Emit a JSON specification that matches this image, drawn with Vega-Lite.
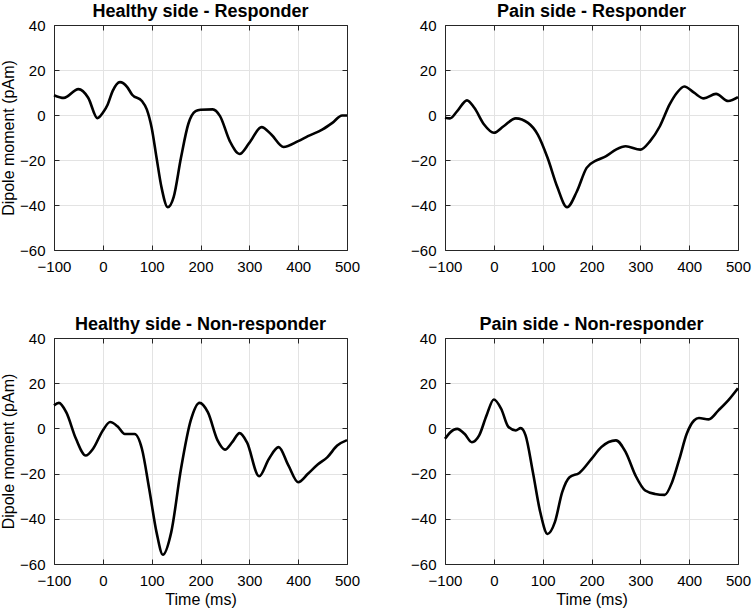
{
 "$schema": "https://vega.github.io/schema/vega-lite/v6.json",
 "padding": {"left": 0, "top": 3, "right": 5, "bottom": 2},
 "background": "white",
 "datasets": {
  "d": [
   {"p":"HR","t":-100,"v":8.8},{"p":"HR","t":-80,"v":7.6},{"p":"HR","t":-50,"v":11.5},{"p":"HR","t":-30,"v":7.7},{"p":"HR","t":-11,"v":-1.4},{"p":"HR","t":0,"v":1},{"p":"HR","t":10,"v":4.7},{"p":"HR","t":20,"v":10.6},{"p":"HR","t":35,"v":14.6},{"p":"HR","t":50,"v":12.4},{"p":"HR","t":60,"v":9},{"p":"HR","t":80,"v":6.2},{"p":"HR","t":90,"v":2.5},{"p":"HR","t":100,"v":-5.7},{"p":"HR","t":110,"v":-19},{"p":"HR","t":120,"v":-32},{"p":"HR","t":133,"v":-41},{"p":"HR","t":145,"v":-36.5},{"p":"HR","t":160,"v":-19},{"p":"HR","t":175,"v":-4},{"p":"HR","t":190,"v":1.7},{"p":"HR","t":200,"v":2.3},{"p":"HR","t":225,"v":2.5},{"p":"HR","t":240,"v":-0.5},{"p":"HR","t":260,"v":-11.6},{"p":"HR","t":280,"v":-17.3},{"p":"HR","t":300,"v":-12.4},{"p":"HR","t":325,"v":-5.4},{"p":"HR","t":345,"v":-8.7},{"p":"HR","t":370,"v":-14.2},{"p":"HR","t":400,"v":-11.6},{"p":"HR","t":420,"v":-9.4},{"p":"HR","t":450,"v":-6.4},{"p":"HR","t":470,"v":-3.5},{"p":"HR","t":490,"v":-0.2},{"p":"HR","t":500,"v":-0.2},
   {"p":"PR","t":-100,"v":-1.2},{"p":"PR","t":-90,"v":-1.5},{"p":"PR","t":-75,"v":1.7},{"p":"PR","t":-55,"v":6.5},{"p":"PR","t":-40,"v":3.2},{"p":"PR","t":-20,"v":-4.2},{"p":"PR","t":0,"v":-7.9},{"p":"PR","t":20,"v":-5},{"p":"PR","t":45,"v":-1.5},{"p":"PR","t":70,"v":-3.5},{"p":"PR","t":90,"v":-8.7},{"p":"PR","t":110,"v":-19},{"p":"PR","t":130,"v":-32},{"p":"PR","t":150,"v":-41},{"p":"PR","t":170,"v":-34},{"p":"PR","t":190,"v":-23.5},{"p":"PR","t":210,"v":-20.2},{"p":"PR","t":230,"v":-18.3},{"p":"PR","t":250,"v":-15.4},{"p":"PR","t":270,"v":-13.9},{"p":"PR","t":300,"v":-15.4},{"p":"PR","t":320,"v":-11.6},{"p":"PR","t":340,"v":-5},{"p":"PR","t":360,"v":4.7},{"p":"PR","t":375,"v":9.9},{"p":"PR","t":390,"v":12.7},{"p":"PR","t":410,"v":9.9},{"p":"PR","t":430,"v":7.4},{"p":"PR","t":455,"v":9.4},{"p":"PR","t":480,"v":6.2},{"p":"PR","t":500,"v":7.9},
   {"p":"HN","t":-100,"v":10.2},{"p":"HN","t":-90,"v":11.3},{"p":"HN","t":-75,"v":7.2},{"p":"HN","t":-55,"v":-4.6},{"p":"HN","t":-35,"v":-12},{"p":"HN","t":-20,"v":-9},{"p":"HN","t":0,"v":-0.9},{"p":"HN","t":15,"v":2.8},{"p":"HN","t":30,"v":0.9},{"p":"HN","t":45,"v":-2.5},{"p":"HN","t":65,"v":-2.5},{"p":"HN","t":80,"v":-9},{"p":"HN","t":95,"v":-26.8},{"p":"HN","t":110,"v":-46},{"p":"HN","t":123,"v":-55.9},{"p":"HN","t":140,"v":-46},{"p":"HN","t":160,"v":-18},{"p":"HN","t":180,"v":3.5},{"p":"HN","t":198,"v":11.3},{"p":"HN","t":215,"v":7.2},{"p":"HN","t":235,"v":-5.3},{"p":"HN","t":250,"v":-9.4},{"p":"HN","t":265,"v":-6.1},{"p":"HN","t":280,"v":-2.1},{"p":"HN","t":295,"v":-6.1},{"p":"HN","t":320,"v":-21.2},{"p":"HN","t":340,"v":-13.5},{"p":"HN","t":360,"v":-8.3},{"p":"HN","t":380,"v":-16.4},{"p":"HN","t":400,"v":-23.8},{"p":"HN","t":420,"v":-20.1},{"p":"HN","t":440,"v":-16},{"p":"HN","t":460,"v":-12.7},{"p":"HN","t":480,"v":-7.6},{"p":"HN","t":500,"v":-5.2},
   {"p":"PN","t":-100,"v":-4.6},{"p":"PN","t":-90,"v":-1.9},{"p":"PN","t":-75,"v":-0.2},{"p":"PN","t":-60,"v":-2.4},{"p":"PN","t":-45,"v":-6.1},{"p":"PN","t":-30,"v":-3.1},{"p":"PN","t":-15,"v":5.7},{"p":"PN","t":0,"v":12.8},{"p":"PN","t":15,"v":8.7},{"p":"PN","t":30,"v":0.6},{"p":"PN","t":45,"v":-0.9},{"p":"PN","t":55,"v":0.1},{"p":"PN","t":65,"v":-3.1},{"p":"PN","t":80,"v":-19.4},{"p":"PN","t":95,"v":-37},{"p":"PN","t":110,"v":-46.7},{"p":"PN","t":125,"v":-41.5},{"p":"PN","t":140,"v":-28.2},{"p":"PN","t":155,"v":-21.6},{"p":"PN","t":175,"v":-19.7},{"p":"PN","t":200,"v":-13.5},{"p":"PN","t":220,"v":-8.3},{"p":"PN","t":250,"v":-5.3},{"p":"PN","t":270,"v":-10.5},{"p":"PN","t":290,"v":-20.8},{"p":"PN","t":310,"v":-27.5},{"p":"PN","t":330,"v":-29},{"p":"PN","t":350,"v":-29.4},{"p":"PN","t":365,"v":-23.8},{"p":"PN","t":380,"v":-13.5},{"p":"PN","t":395,"v":-2.4},{"p":"PN","t":410,"v":3.5},{"p":"PN","t":420,"v":4.6},{"p":"PN","t":440,"v":4},{"p":"PN","t":460,"v":8},{"p":"PN","t":480,"v":12.4},{"p":"PN","t":500,"v":17.8}
  ]
 },
 "data": {"name": "d"},
 "columns": 2,
 "spacing": {"row": 42, "column": 50},
 "concat": [
  {
   "title": "Healthy side - Responder",
   "width": 293, "height": 225,
   "transform": [{"filter": "datum.p == 'HR'"}],
   "layer": [
    {"mark": {"type": "line", "color": "black", "strokeWidth": 2.6, "interpolate": "monotone"},
     "encoding": {
      "x": {"field": "t", "type": "quantitative", "scale": {"domain": [-100, 500], "nice": false}, "axis": {"orient": "bottom", "title": null, "values": [-100,0,100,200,300,400,500]}},
      "y": {"field": "v", "type": "quantitative", "scale": {"domain": [-60, 40], "nice": false}, "axis": {"orient": "left", "title": "Dipole moment (pAm)", "values": [-60,-40,-20,0,20,40]}}
     }},
    {"mark": {"type": "line", "opacity": 0},
     "encoding": {
      "x": {"field": "t", "type": "quantitative", "axis": {"orient": "top", "title": null, "labels": false, "grid": false, "values": [-100,0,100,200,300,400,500]}},
      "y": {"field": "v", "type": "quantitative", "axis": {"orient": "right", "title": null, "labels": false, "grid": false, "values": [-60,-40,-20,0,20,40]}}
     }}
   ],
   "resolve": {"axis": {"x": "independent", "y": "independent"}}
  },
  {
   "title": "Pain side - Responder",
   "width": 293, "height": 225,
   "transform": [{"filter": "datum.p == 'PR'"}],
   "layer": [
    {"mark": {"type": "line", "color": "black", "strokeWidth": 2.6, "interpolate": "monotone"},
     "encoding": {
      "x": {"field": "t", "type": "quantitative", "scale": {"domain": [-100, 500], "nice": false}, "axis": {"orient": "bottom", "title": null, "values": [-100,0,100,200,300,400,500]}},
      "y": {"field": "v", "type": "quantitative", "scale": {"domain": [-60, 40], "nice": false}, "axis": {"orient": "left", "title": null, "values": [-60,-40,-20,0,20,40]}}
     }},
    {"mark": {"type": "line", "opacity": 0},
     "encoding": {
      "x": {"field": "t", "type": "quantitative", "axis": {"orient": "top", "title": null, "labels": false, "grid": false, "values": [-100,0,100,200,300,400,500]}},
      "y": {"field": "v", "type": "quantitative", "axis": {"orient": "right", "title": null, "labels": false, "grid": false, "values": [-60,-40,-20,0,20,40]}}
     }}
   ],
   "resolve": {"axis": {"x": "independent", "y": "independent"}}
  },
  {
   "title": "Healthy side - Non-responder",
   "width": 293, "height": 226,
   "transform": [{"filter": "datum.p == 'HN'"}],
   "layer": [
    {"mark": {"type": "line", "color": "black", "strokeWidth": 2.6, "interpolate": "monotone"},
     "encoding": {
      "x": {"field": "t", "type": "quantitative", "scale": {"domain": [-100, 500], "nice": false}, "axis": {"orient": "bottom", "title": "Time (ms)", "values": [-100,0,100,200,300,400,500]}},
      "y": {"field": "v", "type": "quantitative", "scale": {"domain": [-60, 40], "nice": false}, "axis": {"orient": "left", "title": "Dipole moment (pAm)", "values": [-60,-40,-20,0,20,40]}}
     }},
    {"mark": {"type": "line", "opacity": 0},
     "encoding": {
      "x": {"field": "t", "type": "quantitative", "axis": {"orient": "top", "title": null, "labels": false, "grid": false, "values": [-100,0,100,200,300,400,500]}},
      "y": {"field": "v", "type": "quantitative", "axis": {"orient": "right", "title": null, "labels": false, "grid": false, "values": [-60,-40,-20,0,20,40]}}
     }}
   ],
   "resolve": {"axis": {"x": "independent", "y": "independent"}}
  },
  {
   "title": "Pain side - Non-responder",
   "width": 293, "height": 226,
   "transform": [{"filter": "datum.p == 'PN'"}],
   "layer": [
    {"mark": {"type": "line", "color": "black", "strokeWidth": 2.6, "interpolate": "monotone"},
     "encoding": {
      "x": {"field": "t", "type": "quantitative", "scale": {"domain": [-100, 500], "nice": false}, "axis": {"orient": "bottom", "title": "Time (ms)", "values": [-100,0,100,200,300,400,500]}},
      "y": {"field": "v", "type": "quantitative", "scale": {"domain": [-60, 40], "nice": false}, "axis": {"orient": "left", "title": null, "values": [-60,-40,-20,0,20,40]}}
     }},
    {"mark": {"type": "line", "opacity": 0},
     "encoding": {
      "x": {"field": "t", "type": "quantitative", "axis": {"orient": "top", "title": null, "labels": false, "grid": false, "values": [-100,0,100,200,300,400,500]}},
      "y": {"field": "v", "type": "quantitative", "axis": {"orient": "right", "title": null, "labels": false, "grid": false, "values": [-60,-40,-20,0,20,40]}}
     }}
   ],
   "resolve": {"axis": {"x": "independent", "y": "independent"}}
  }
 ],
 "config": {
  "font": "Liberation Sans",
  "view": {"stroke": null},
  "title": {"fontSize": 18, "fontWeight": "bold", "color": "black", "anchor": "middle", "offset": -3},
  "axis": {
   "labelFontSize": 15, "labelColor": "black", "labelPadding": 14, "labelFlush": false,
   "titleFontSize": 16, "titleFontWeight": "normal", "titleColor": "black", "titlePadding": 3,
   "domainColor": "#262626", "domainWidth": 1,
   "tickColor": "#262626", "tickSize": -5, "tickWidth": 1,
   "gridColor": "#e3e3e3", "gridWidth": 1
  },
  "axisY": {"labelPadding": 14, "titlePadding": 3}
 }
}
